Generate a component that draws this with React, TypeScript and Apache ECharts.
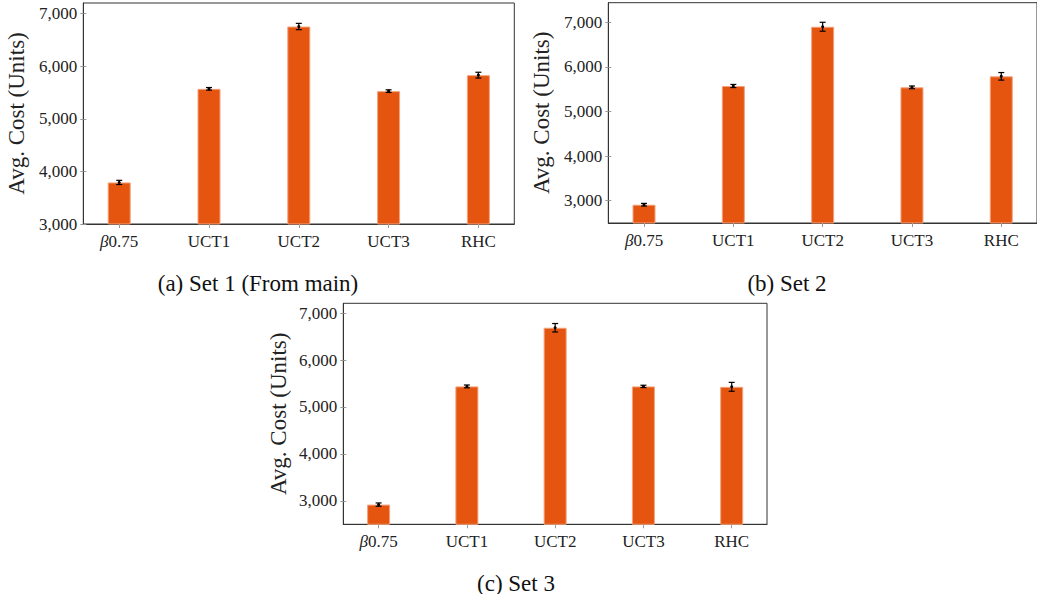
import React, { useEffect, useRef } from "react";
import * as echarts from "echarts";

const categories = ["β0.75", "UCT1", "UCT2", "UCT3", "RHC"];
const yTicks = [3000, 4000, 5000, 6000, 7000];

const set1Means = [3790, 5569, 6753, 5525, 5829];
const set1Errors = [40, 25, 60, 25, 55];
const set2Means = [2910, 5572, 6901, 5542, 5789];
const set2Errors = [30, 35, 100, 30, 85];
const set3Means = [2920, 5439, 6689, 5439, 5430];
const set3Errors = [35, 30, 90, 25, 95];

const captions = ["(a) Set 1 (From main)", "(b) Set 2", "(c) Set 3"];

const SERIF = "'Liberation Serif', 'DejaVu Serif', serif";
const BAR = "#e5550f";
const BAR_EDGE = "#f2a27c";

type Panel = {
  means: number[];
  errors: number[];
  grid: { left: number; top: number; width: number; height: number };
  yMin: number;
  yMax: number;
  nameGap: number;
};

const panels: Panel[] = [
  { means: set1Means, errors: set1Errors, grid: { left: 83.3, top: 3, width: 431, height: 221 }, yMin: 3000, yMax: 7200, nameGap: 55 },
  { means: set2Means, errors: set2Errors, grid: { left: 608.3, top: 2.7, width: 437.3, height: 220.3 }, yMin: 2500, yMax: 7440, nameGap: 55 },
  { means: set3Means, errors: set3Errors, grid: { left: 343.3, top: 303.3, width: 423.7, height: 221 }, yMin: 2500, yMax: 7210, nameGap: 53 },
];

const captionPos = [
  { x: 258, y: 283 },
  { x: 787, y: 283 },
  { x: 516, y: 583 },
];

export default function App() {
  const ref = useRef<HTMLDivElement>(null);
  useEffect(() => {
    if (!ref.current) return;
    const chart = echarts.init(ref.current, null, { renderer: "svg" });
    const grids: any[] = [];
    const xAxes: any[] = [];
    const yAxes: any[] = [];
    const series: any[] = [];
    panels.forEach((p, i) => {
      grids.push({
        ...p.grid,
        show: true,
        borderColor: "#333",
        borderWidth: 1,
        backgroundColor: "transparent",
        containLabel: false,
      });
      xAxes.push({
        type: "value",
        gridIndex: i,
        min: -0.4,
        max: 4.4,
        splitLine: { show: false },
        axisLine: { show: true, onZero: false, lineStyle: { color: "#333", width: 1 } },
        axisTick: { show: true, inside: false, length: 4, lineStyle: { color: "#999" }, customValues: [0, 1, 2, 3, 4] },
        axisLabel: {
          customValues: [0, 1, 2, 3, 4],
          margin: 9,
          fontFamily: SERIF,
          fontSize: 17,
          color: "#222",
          formatter: (v: number) => {
            const c = categories[Math.round(v)] ?? "";
            return c.startsWith("β") ? "{i|β}" + c.slice(1) : c;
          },
          rich: { i: { fontStyle: "italic", fontFamily: SERIF, fontSize: 17, color: "#222" } },
        },
      });
      yAxes.push({
        type: "value",
        gridIndex: i,
        min: p.yMin,
        max: p.yMax,
        position: "left",
        splitLine: { show: false },
        axisLine: { show: true, onZero: false, lineStyle: { color: "#333", width: 1 } },
        axisTick: { show: true, inside: true, length: 3, lineStyle: { color: "#999" }, customValues: yTicks },
        axisLabel: {
          customValues: yTicks,
          margin: 6,
          fontFamily: SERIF,
          fontSize: 17,
          color: "#222",
          formatter: (v: number) => v.toLocaleString("en-US"),
        },
        name: "Avg. Cost (Units)",
        nameLocation: "middle",
        nameRotate: 90,
        nameGap: p.nameGap,
        nameTextStyle: { fontFamily: SERIF, fontSize: 23, color: "#222" },
      });
      yAxes.push({
        type: "value",
        gridIndex: i,
        min: p.yMin,
        max: p.yMax,
        position: "left",
        splitLine: { show: false },
        axisLine: { show: false, onZero: false },
        axisTick: { show: true, inside: false, length: 3, lineStyle: { color: "#999" }, customValues: yTicks },
        axisLabel: { show: false },
      });
      series.push({
        type: "bar",
        xAxisIndex: i,
        yAxisIndex: i * 2,
        barWidth: 23,
        data: p.means.map((m, k) => [k, m]),
        itemStyle: { color: BAR, borderColor: BAR_EDGE, borderWidth: 1 },
        silent: true,
      });
      series.push({
        type: "custom",
        xAxisIndex: i,
        yAxisIndex: i * 2,
        data: p.means.map((m, k) => [k, m, p.errors[k]]),
        silent: true,
        z: 10,
        renderItem: (params: any, api: any) => {
          const x = api.value(0);
          const y = api.value(1);
          const e = api.value(2);
          const top = api.coord([x, y + e]);
          const bot = api.coord([x, y - e]);
          const mid = api.coord([x, y]);
          const cw = 3;
          const style = { stroke: "#000", lineWidth: 1.2 };
          return {
            type: "group",
            children: [
              { type: "line", shape: { x1: top[0], y1: top[1], x2: bot[0], y2: bot[1] }, style },
              { type: "line", shape: { x1: top[0] - cw, y1: top[1], x2: top[0] + cw, y2: top[1] }, style },
              { type: "line", shape: { x1: bot[0] - cw, y1: bot[1], x2: bot[0] + cw, y2: bot[1] }, style },
              { type: "circle", shape: { cx: mid[0], cy: mid[1], r: 1.5 }, style: { fill: "#000" } },
            ],
          };
        },
      });
    });
    chart.setOption({
      animation: false,
      backgroundColor: "#fff",
      grid: grids,
      xAxis: xAxes,
      yAxis: yAxes,
      series,
      graphic: captions.map((t, i) => ({
        type: "text",
        x: captionPos[i].x,
        y: captionPos[i].y,
        style: {
          text: t,
          fontFamily: SERIF,
          fontSize: 23,
          fill: "#111",
          textAlign: "center",
          textVerticalAlign: "middle",
        },
      })),
    });
    return () => chart.dispose();
  }, []);
  return (
    <div
      ref={ref}
      style={{ position: "absolute", left: 0, top: 0, width: 1037, height: 594 }}
    />
  );
}
